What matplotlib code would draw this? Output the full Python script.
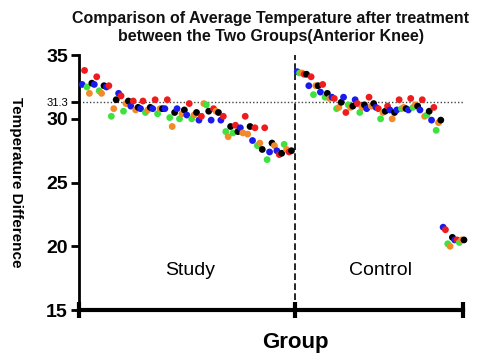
import matplotlib.pyplot as plt
import numpy as np

plt.rcParams['font.family'] = ['Liberation Sans', 'DejaVu Sans']

# Colour codes for the five measurement series
palette = {'r': '#ee1c1c', 'b': '#1a1aee', 'k': '#000000',
           'g': '#3ee23e', 'o': '#f28a2a'}

# Study group, in plotting order
study_vals = [32.7, 33.8, 32.5, 32.0, 32.8, 32.7, 33.3, 32.2, 32.0, 32.6,
              32.5, 32.6, 30.2, 30.8, 31.5, 32.0, 31.8, 30.6, 31.2, 31.4,
              31.0, 31.4, 30.7, 30.9, 30.8, 31.4, 30.5, 30.7, 30.9, 30.8,
              31.5, 30.4, 30.8, 30.8, 30.8, 31.5, 30.1, 29.4, 30.5, 30.8,
              30.0, 30.4, 30.7, 30.3, 31.2, 30.0, 30.3, 30.5, 29.9, 30.2,
              31.2, 31.1, 30.6, 29.9, 30.8, 30.6, 30.5, 29.9, 30.2, 29.0,
              28.6, 29.4, 28.9, 29.5, 29.0, 29.3, 28.9, 30.2, 28.8, 29.4,
              28.3, 29.3, 27.9, 28.1, 27.6, 29.3, 26.8, 27.4, 28.1, 27.9,
              27.5, 27.2, 27.3, 28.0, 27.6, 27.4, 27.5]
study_cols = ['b', 'r', 'g', 'o', 'k', 'b', 'r', 'g', 'o', 'k',
              'b', 'r', 'g', 'o', 'k', 'b', 'r', 'g', 'o', 'k',
              'b', 'r', 'o', 'k', 'b', 'r', 'g', 'o', 'k', 'b',
              'r', 'g', 'o', 'k', 'b', 'r', 'g', 'o', 'k', 'b',
              'g', 'o', 'k', 'b', 'r', 'g', 'o', 'k', 'b', 'r',
              'o', 'g', 'k', 'b', 'r', 'o', 'k', 'b', 'r', 'g',
              'o', 'k', 'g', 'r', 'k', 'b', 'o', 'r', 'o', 'k',
              'b', 'r', 'g', 'o', 'k', 'r', 'g', 'b', 'k', 'o',
              'b', 'r', 'k', 'g', 'o', 'r', 'k']

# Control group, in plotting order
control_vals = [33.7, 33.6, 33.6, 33.5, 33.5, 32.6, 33.3, 31.9, 32.6, 32.6,
                32.1, 32.7, 31.7, 32.0, 31.6, 31.7, 31.6, 30.8, 30.9, 31.3,
                31.7, 30.5, 31.1, 30.9, 31.0, 31.5, 31.2, 30.5, 30.9, 31.1,
                30.8, 31.7, 31.0, 31.2, 30.9, 30.8, 30.0, 30.5, 30.6, 31.0,
                30.7, 30.0, 30.5, 30.7, 31.5, 30.8, 30.9, 30.8, 30.7, 31.6,
                30.9, 31.1, 31.0, 30.7, 31.5, 30.2, 30.3, 30.6, 29.9, 30.9,
                29.1, 29.7, 29.9,
                21.5, 21.3, 20.2, 20.0, 20.7, 20.5, 20.5, 20.3, 20.5, 20.5]
control_cols = ['b', 'g', 'o', 'r', 'k', 'b', 'r', 'g', 'o', 'k',
                'b', 'r', 'g', 'k', 'o', 'b', 'r', 'g', 'o', 'k',
                'b', 'r', 'g', 'o', 'k', 'b', 'r', 'g', 'o', 'k',
                'b', 'r', 'o', 'k', 'b', 'r', 'g', 'o', 'k', 'r',
                'b', 'o', 'k', 'b', 'r', 'g', 'o', 'k', 'b', 'r',
                'g', 'o', 'k', 'b', 'r', 'o', 'g', 'k', 'b', 'r',
                'g', 'o', 'k',
                'b', 'r', 'g', 'o', 'k', 'b', 'r', 'g', 'o', 'k']

ref_value = 31.3
y_ticks = [15, 20, 25, 30, 35]
split = 0.5625

fig = plt.figure(figsize=(4.79, 3.58), dpi=100)
ax = fig.add_axes([0.165, 0.134, 0.802, 0.712])

study_x = np.linspace(0.008, 0.553, len(study_vals))
control_x = np.linspace(0.568, 1.002, len(control_vals))

ax.scatter(study_x, study_vals, s=24, c=[palette[c] for c in study_cols],
           linewidths=0, zorder=3, clip_on=False)
ax.scatter(control_x, control_vals, s=24, c=[palette[c] for c in control_cols],
           linewidths=0, zorder=3, clip_on=False)

# reference line and group divider
ax.axhline(ref_value, color='#444444', lw=1, ls=(0, (1, 1.5)), zorder=1)
ax.axvline(split, color='black', lw=1.2, ls=(0, (4, 2)), zorder=1)

ax.set_xlim(0, 1)
ax.set_ylim(15, 35)

for side in ['top', 'right']:
    ax.spines[side].set_visible(False)
ax.spines['left'].set_linewidth(2)
ax.spines['bottom'].set_linewidth(3)

ax.set_xticks([0, split, 1])
ax.set_xticklabels([])
ax.tick_params(axis='x', direction='inout', length=12, width=3)

ax.set_yticks(y_ticks + [ref_value])
ax.set_yticklabels([str(t) for t in y_ticks] + ['31.3'])
ax.tick_params(axis='y', direction='out', length=6, width=2, pad=2)
for lbl in ax.get_yticklabels():
    if lbl.get_text() == '31.3':
        lbl.set_fontsize(8)
    else:
        lbl.set_fontsize(14)
        lbl.set_fontweight('bold')

ax.text(0.29, 18.1, 'Study', fontsize=14, ha='center', va='center')
ax.text(0.785, 18.1, 'Control', fontsize=14, ha='center', va='center')

ax.set_xlabel('Group', fontsize=16, fontweight='bold')
ax.xaxis.set_label_coords(split, -0.085)
ax.set_ylabel('Temperature Difference', fontsize=11, fontweight='bold',
              rotation=270, va='center')
ax.yaxis.set_label_coords(-0.165, 0.5)

fig.suptitle('Comparison of Average Temperature after treatment\n'
             'between the Two Groups(Anterior Knee)',
             fontsize=11.5, fontweight='bold', y=0.968, x=0.565,
             linespacing=1.2, color='#111111')

fig.savefig('out.png', dpi=100)
